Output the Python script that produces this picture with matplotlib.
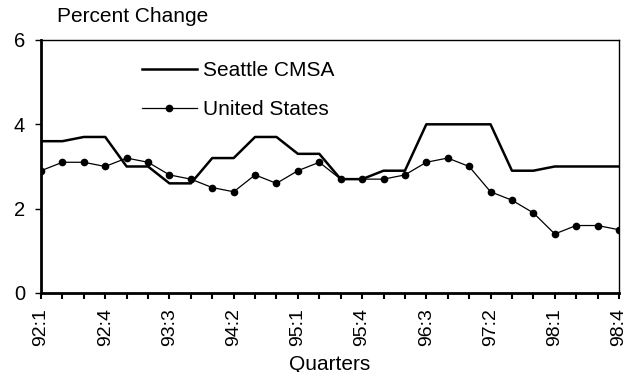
import matplotlib
matplotlib.use("Agg")
import matplotlib.pyplot as plt

plt.rcParams["font.family"] = ["Liberation Sans", "DejaVu Sans"]

quarters = [f"{y}:{q}" for y in range(92, 99) for q in range(1, 5)]
seattle = [3.6, 3.6, 3.7, 3.7, 3.0, 3.0, 2.6, 2.6, 3.2, 3.2, 3.7, 3.7, 3.3, 3.3,
           2.7, 2.7, 2.9, 2.9, 4.0, 4.0, 4.0, 4.0, 2.9, 2.9, 3.0, 3.0, 3.0, 3.0]
us = [2.9, 3.1, 3.1, 3.0, 3.2, 3.1, 2.8, 2.7, 2.5, 2.4, 2.8, 2.6, 2.9, 3.1,
      2.7, 2.7, 2.7, 2.8, 3.1, 3.2, 3.0, 2.4, 2.2, 1.9, 1.4, 1.6, 1.6, 1.5]
y_ticks = [0, 2, 4, 6]

FS = 15

fig = plt.figure(figsize=(6.34, 3.72), dpi=100)
ax = fig.add_axes([0.0647, 0.2124, 0.9116, 0.6801])

x = list(range(len(quarters)))
ax.plot(x, seattle, color="black", lw=1.8, label="Seattle CMSA")
ax.plot(x, us, color="black", lw=0.9, marker="o", ms=4.5, label="United States")

ax.set_xlim(0, len(quarters) - 1)
ax.set_ylim(0, 6)
ax.set_yticks(y_ticks)
ax.set_xticks(x)
ax.set_xticklabels([q if i % 3 == 0 else "" for i, q in enumerate(quarters)],
                   rotation=90, fontsize=14)
ax.tick_params(axis="y", labelsize=14.5, length=4.5, width=1, pad=7)
ax.tick_params(axis="x", length=4, width=1.5, pad=7)

for side in ["left", "bottom"]:
    ax.spines[side].set_linewidth(2)
for side in ["top", "right"]:
    ax.spines[side].set_linewidth(1)

fig.text(330 / 634, 1 - 364 / 372, "Quarters", fontsize=FS, va="center", ha="center")
fig.text(57 / 634, 1 - 17 / 372, "Percent Change", fontsize=FS, va="center", ha="left")

ax.legend(loc="upper left", bbox_to_anchor=(0.16, 0.948), frameon=False, fontsize=FS,
          handlelength=2.65, handletextpad=0.3, labelspacing=0.95, borderaxespad=0)

fig.savefig("out.png", dpi=100)
